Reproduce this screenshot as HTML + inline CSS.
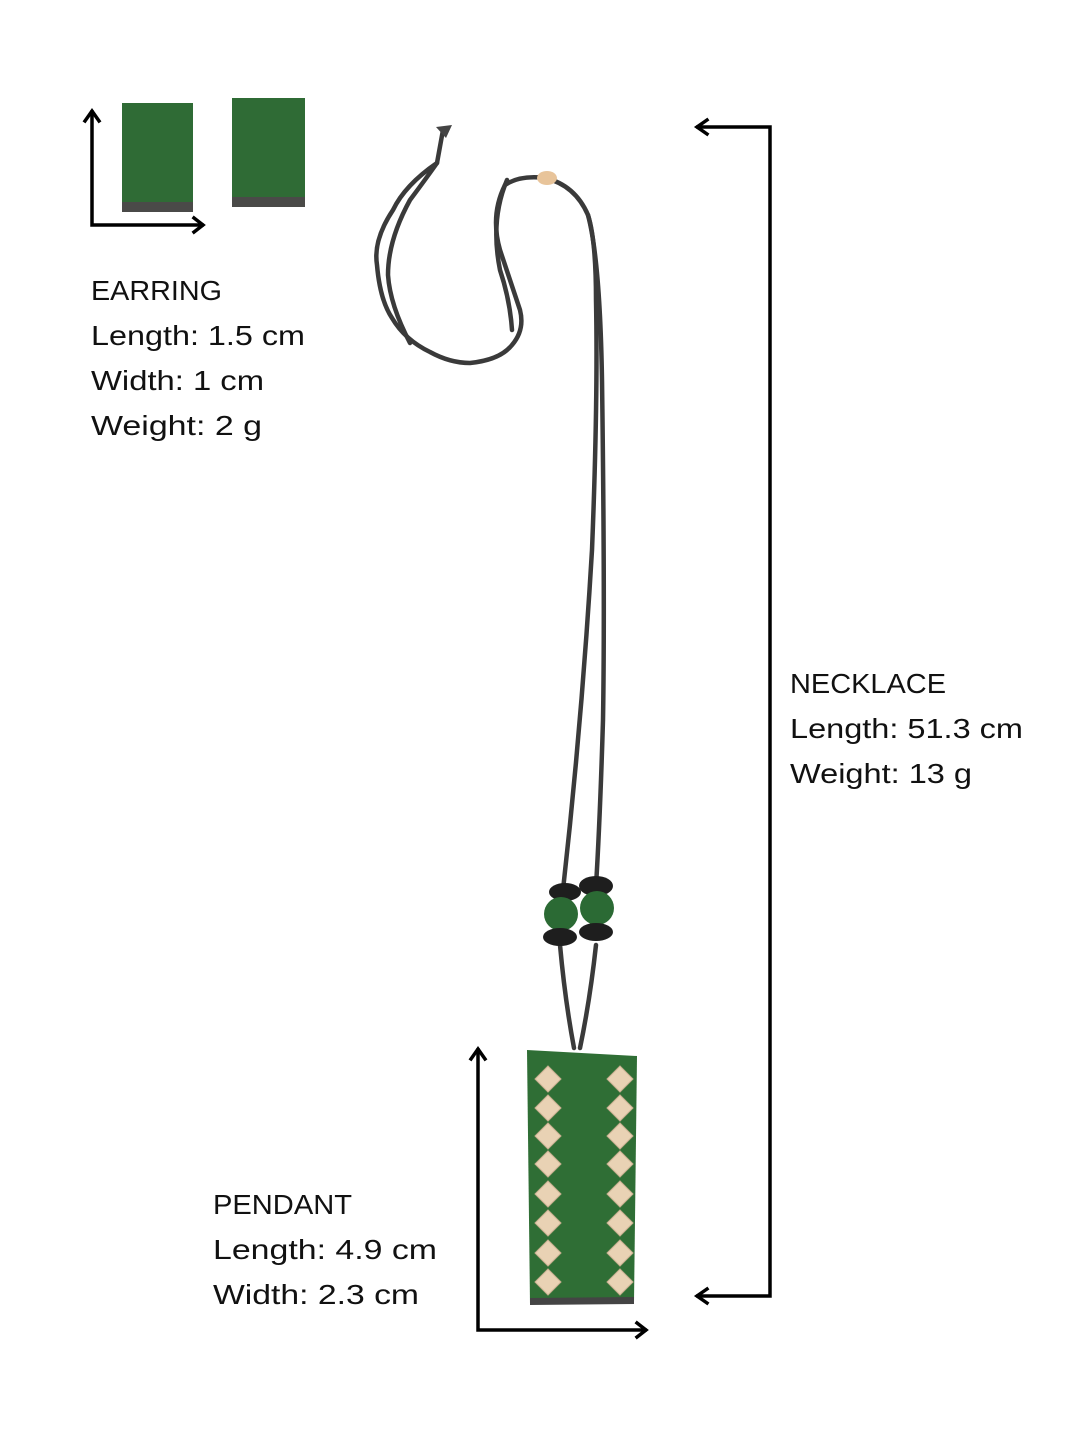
<!DOCTYPE html>
<html><head><meta charset="utf-8"><style>html,body{margin:0;padding:0;background:#fff}svg{display:block}</style></head>
<body>
<svg width="1080" height="1440" viewBox="0 0 1080 1440" xmlns="http://www.w3.org/2000/svg">
<rect width="1080" height="1440" fill="#fff"/>
<g font-family="Liberation Sans, sans-serif" font-size="28" fill="#111">
<text x="91" y="300" textLength="131" lengthAdjust="spacingAndGlyphs">EARRING</text>
<text x="91" y="345" textLength="214" lengthAdjust="spacingAndGlyphs">Length: 1.5 cm</text>
<text x="91" y="390" textLength="173" lengthAdjust="spacingAndGlyphs">Width: 1 cm</text>
<text x="91" y="435" textLength="171" lengthAdjust="spacingAndGlyphs">Weight: 2 g</text>
<text x="790" y="693" textLength="156" lengthAdjust="spacingAndGlyphs">NECKLACE</text>
<text x="790" y="738" textLength="233" lengthAdjust="spacingAndGlyphs">Length: 51.3 cm</text>
<text x="790" y="783" textLength="182" lengthAdjust="spacingAndGlyphs">Weight: 13 g</text>
<text x="213" y="1214" textLength="139" lengthAdjust="spacingAndGlyphs">PENDANT</text>
<text x="213" y="1259" textLength="224" lengthAdjust="spacingAndGlyphs">Length: 4.9 cm</text>
<text x="213" y="1304" textLength="206" lengthAdjust="spacingAndGlyphs">Width: 2.3 cm</text>
</g>
<g stroke="#000" stroke-width="3.5" fill="none" stroke-linecap="square">
<path d="M92 112 V225 H202"/><path d="M85 121 L92 111 L99 121"/><path d="M194 218 L203 225 L194 232"/>
<path d="M698 127 H770 V1296 H698"/><path d="M707 120 L697 127 L707 134"/><path d="M707 1289 L697 1296 L707 1303"/>
<path d="M478 1050 V1330 H645"/><path d="M471 1059 L478 1049 L485 1059"/><path d="M637 1323 L646 1330 L637 1337"/>
</g>
<!-- earrings -->
<rect x="122" y="103" width="71" height="109" fill="#2f6b35"/><rect x="122" y="202" width="71" height="10" fill="#4a4a48"/>
<rect x="232" y="98" width="73" height="109" fill="#2f6b35"/><rect x="232" y="197" width="73" height="10" fill="#4a4a48"/>
<!-- cord loop -->
<g fill="none" stroke="#3a3a3a" stroke-width="4.5" stroke-linecap="round" stroke-linejoin="round">
<path d="M443 130 L437 163 Q405 185 393 210 Q373 240 377 265 Q380 300 392 318 Q405 340 430 352 Q450 363 470 363 Q500 360 512 345 Q525 330 520 310 Q510 280 500 250 Q490 215 505 185 Q520 175 545 178 Q575 185 588 215 Q596 240 596 300 Q598 400 592 550 Q582 720 563 890"/>
<path d="M437 163 Q425 180 410 200 Q388 240 388 275 Q390 305 410 343"/>
<path d="M507 180 Q490 220 500 270 Q510 300 512 330"/>
<path d="M588 215 Q600 260 602 380 Q605 600 603 720 Q600 820 596 886"/>
<path d="M560 945 Q565 1000 574 1048"/><path d="M596 945 Q590 1000 580 1048"/>
</g>
<path d="M436 127 L452 125 L446 138 Z" fill="#444"/>
<ellipse cx="547" cy="178" rx="10" ry="7" fill="#e8c49a"/>
<!-- beads -->
<ellipse cx="565" cy="892" rx="16" ry="9" fill="#1e1e1e"/><ellipse cx="596" cy="886" rx="17" ry="10" fill="#1e1e1e"/>
<circle cx="561" cy="914" r="17" fill="#2b6a34"/><circle cx="597" cy="908" r="17" fill="#2b6a34"/>
<ellipse cx="560" cy="937" rx="17" ry="9" fill="#1e1e1e"/><ellipse cx="596" cy="932" rx="17" ry="9" fill="#1e1e1e"/>
<!-- pendant -->
<path d="M527 1050 L637 1056 L634 1302 L530 1304 Z" fill="#2f6e35"/>
<path d="M530 1298 L634 1297 L634 1304 L530 1305 Z" fill="#444"/>
<g fill="#e9d2b4" stroke="#c8b090" stroke-width="1">
<g id="col">
<path d="M548 1066 l13 13 l-13 13 l-13 -13 z"/><path d="M548 1095 l13 13 l-13 13 l-13 -13 z"/>
<path d="M548 1123 l13 13 l-13 13 l-13 -13 z"/><path d="M548 1151 l13 13 l-13 13 l-13 -13 z"/>
<path d="M548 1181 l13 13 l-13 13 l-13 -13 z"/><path d="M548 1210 l13 13 l-13 13 l-13 -13 z"/>
<path d="M548 1240 l13 13 l-13 13 l-13 -13 z"/><path d="M548 1269 l13 13 l-13 13 l-13 -13 z"/>
</g>
<use href="#col" x="72" y="0"/>
</g>
</svg>
</body></html>
